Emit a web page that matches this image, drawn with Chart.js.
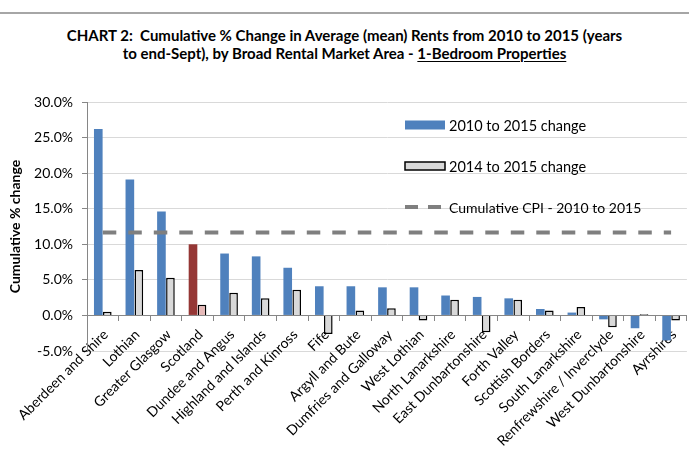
<!DOCTYPE html>
<html>
<head>
<meta charset="utf-8">
<script src="https://cdn.jsdelivr.net/npm/chart.js@4/dist/chart.umd.min.js"></script>
<style>
    body { margin: 0; background: #fff; }
    #wrap { position: relative; width: 689px; height: 455px; overflow: hidden; }
    #rule { position: absolute; left: 0; top: 12px; width: 689px; height: 0; border-top: 2px solid #a6a6a6; }
    #title {
        position: absolute; left: 0; top: 26px; width: 689px;
        text-align: center; font: bold 15px Lato, sans-serif; line-height: 18px; color: #000;
    }
    #title u { text-decoration-thickness: 1px; text-underline-offset: 2px; }
    canvas { position: absolute; left: 0; top: 0; }
</style>
</head>
<body>
<div id="wrap">
    <div id="rule"></div>
    <div id="title">CHART 2:&nbsp; Cumulative % Change in Average (mean) Rents from 2010 to 2015 (years<br>to end-Sept), by Broad Rental Market Area - <u>1-Bedroom Properties</u></div>
    <canvas id="chart" width="689" height="455"></canvas>
</div>
<script>
// ==================== ДАННЫЕ ====================

const areas = [
    'Aberdeen and Shire', 'Lothian', 'Greater Glasgow', 'Scotland', 'Dundee and Angus',
    'Highland and Islands', 'Perth and Kinross', 'Fife', 'Argyll and Bute', 'Dumfries and Galloway',
    'West Lothian', 'North Lanarkshire', 'East Dunbartonshire', 'Forth Valley', 'Scottish Borders',
    'South Lanarkshire', 'Renfrewshire / Inverclyde', 'West Dunbartonshire', 'Ayrshires'
];
const change2010to2015 = [26.2, 19.1, 14.6, 10.0, 8.7, 8.3, 6.7, 4.1, 4.1, 3.95, 3.95, 2.8, 2.6, 2.4, 0.9, 0.4, -0.55, -1.8, -3.5];
const change2014to2015 = [0.5, 6.4, 5.3, 1.5, 3.2, 2.4, 3.6, -2.6, 0.7, 1.0, -0.7, 2.2, -2.35, 2.2, 0.7, 1.2, -1.65, 0.15, -0.7];
const cumulativeCPI = 11.65;
const yTicks = [-5, 0, 5, 10, 15, 20, 25, 30];

const seriesNames = ['2010 to 2015 change', '2014 to 2015 change', 'Cumulative CPI - 2010 to 2015'];

// Scotland is highlighted in its own colours
const blue = '#4f81bd', red = '#953735';
const grey = '#d9d9d9', pink = '#e6b9b8';
const longColors = areas.map(a => a === 'Scotland' ? red : blue);
const shortColors = areas.map(a => a === 'Scotland' ? pink : grey);

const FONT = 'Lato, sans-serif';

// ==================== ЛЕГЕНДА ====================

const legendPlugin = {
    id: 'boxLegend',
    afterDraw(chart) {
        const ctx = chart.ctx;
        const x = 405, textX = 449;
        const rows = [125, 166, 207];
        ctx.save();
        ctx.font = '14.5px ' + FONT;
        ctx.textBaseline = 'middle';

        ctx.fillStyle = blue;
        ctx.fillRect(x, rows[0] - 4.5, 40, 9);

        ctx.fillStyle = grey;
        ctx.fillRect(x, rows[1] - 4, 40, 8);
        ctx.strokeStyle = '#000';
        ctx.lineWidth = 1.5;
        ctx.strokeRect(x, rows[1] - 4, 40, 8);

        ctx.strokeStyle = '#7f7f7f';
        ctx.lineWidth = 4;
        ctx.setLineDash([13, 10]);
        ctx.beginPath();
        ctx.moveTo(x, rows[2]);
        ctx.lineTo(x + 36, rows[2]);
        ctx.stroke();
        ctx.setLineDash([]);

        ctx.fillStyle = '#000';
        ctx.fillText(seriesNames[0], textX, rows[0] + 1);
        ctx.fillText(seriesNames[1], textX, rows[1] + 1);
        ctx.font = '14px ' + FONT;
        ctx.fillText(seriesNames[2], textX, rows[2] + 1);
        ctx.restore();
    }
};

// ==================== ГРАФИК ====================

new Chart(document.getElementById('chart'), {
    data: {
        labels: areas,
        datasets: [
            {
                type: 'line',
                label: seriesNames[2],
                data: areas.map(() => cumulativeCPI),
                borderColor: '#7f7f7f',
                borderWidth: 4,
                borderDash: [13.5, 12],
                borderCapStyle: 'butt',
                pointRadius: 0,
                fill: false,
                order: 0
            },
            {
                type: 'bar',
                label: seriesNames[0],
                data: change2010to2015,
                backgroundColor: longColors,
                borderWidth: 0,
                categoryPercentage: 0.57,
                barPercentage: 0.96,
                order: 1
            },
            {
                type: 'bar',
                label: seriesNames[1],
                data: change2014to2015,
                backgroundColor: shortColors,
                borderColor: '#000',
                borderWidth: 1.5,
                categoryPercentage: 0.57,
                barPercentage: 0.96,
                order: 1
            }
        ]
    },
    options: {
        responsive: false,
        animation: false,
        layout: {
            padding: { left: 0, top: 102, right: 1, bottom: 104 }
        },
        plugins: {
            legend: { display: false },
            tooltip: { enabled: false },
            title: { display: false }
        },
        scales: {
            x: {
                position: { y: 0 },
                z: 1,
                border: { color: '#868686', width: 1 },
                grid: {
                    offset: true,
                    drawOnChartArea: false,
                    tickLength: 5,
                    color: '#868686'
                },
                ticks: {
                    autoSkip: false,
                    minRotation: 45,
                    maxRotation: 45,
                    padding: 6,
                    labelOffset: 3,
                    color: '#000',
                    font: { family: FONT, size: 14 }
                }
            },
            y: {
                min: -5,
                max: 30,
                afterBuildTicks(scale) {
                    scale.ticks = yTicks.map(v => ({ value: v }));
                },
                afterFit(scale) {
                    scale.width = 87;
                },
                border: { color: '#868686', width: 1 },
                grid: {
                    color: '#d9d9d9',
                    borderDash: [5, 3],
                    tickColor: '#868686',
                    tickBorderDash: [],
                    tickLength: 5
                },
                ticks: {
                    padding: 9,
                    color: '#000',
                    font: { family: FONT, size: 14 },
                    callback: v => v.toFixed(1) + '%'
                },
                title: {
                    display: true,
                    text: 'Cumulative % change',
                    color: '#000',
                    padding: { top: 7, bottom: 0 },
                    font: { family: FONT, size: 14, weight: 'bold' }
                }
            }
        }
    },
    plugins: [legendPlugin]
});
</script>
</body>
</html>
